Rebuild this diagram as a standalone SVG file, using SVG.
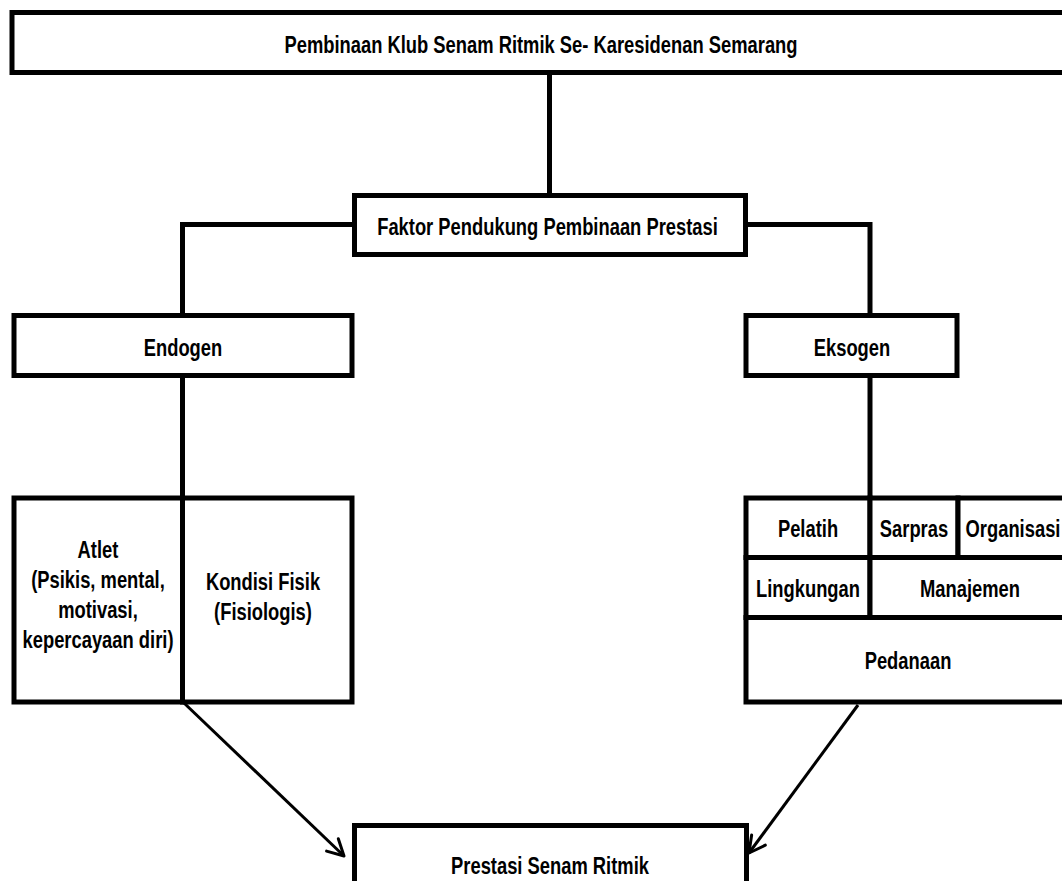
<svg xmlns="http://www.w3.org/2000/svg" width="1062" height="881" viewBox="0 0 1062 881">
  <style>
    .box { fill: #ffffff; stroke: #000000; stroke-width: 5; }
    .ln { fill: none; stroke: #000000; stroke-width: 5; }
    .arr { fill: none; stroke: #000000; stroke-width: 3; marker-end: url(#ah); }
    text { font-family: "Liberation Sans", Arial, sans-serif; font-weight: bold; font-size: 24px; text-anchor: middle; fill: #000000; }
  </style>
  <defs>
    <marker id="ah" markerUnits="userSpaceOnUse" markerWidth="30" markerHeight="30" viewBox="-22 -15 30 30" refX="0" refY="0" orient="auto" overflow="visible">
      <path d="M-16,-8.5 L0,0 L-16,8.5" fill="none" stroke="#000000" stroke-width="3" stroke-linecap="round" stroke-linejoin="round"/>
    </marker>
  </defs>
  <rect x="0" y="0" width="1062" height="881" fill="#ffffff"/>

  <g id="connectors">
    <path class="ln" d="M549.5,72.5 V195.5"/>
    <path class="ln" d="M354.5,224.5 H182.5 V315.5"/>
    <path class="ln" d="M745.5,224.5 H870 V315.5"/>
    <path class="ln" d="M182.5,375.5 V498"/>
    <path class="ln" d="M870,375.5 V498"/>
    <path class="arr" d="M184,703 L344,856"/>
    <path class="arr" d="M858,705 L749,853"/>
  </g>

  <g id="n-title">
    <rect class="box" x="12" y="12.5" width="1060" height="60"/>
    <text transform="translate(541 53) scale(0.765 1)">Pembinaan Klub Senam Ritmik Se- Karesidenan Semarang</text>
  </g>

  <g id="n-faktor">
    <rect class="box" x="354.5" y="195.5" width="391" height="59"/>
    <text transform="translate(547.5 234.5) scale(0.765 1)">Faktor Pendukung Pembinaan Prestasi</text>
  </g>

  <g id="n-endogen">
    <rect class="box" x="14" y="315.5" width="338" height="60"/>
    <text transform="translate(183 355.5) scale(0.765 1)">Endogen</text>
  </g>

  <g id="n-eksogen">
    <rect class="box" x="746" y="315.5" width="211" height="60"/>
    <text transform="translate(852 355.5) scale(0.765 1)">Eksogen</text>
  </g>

  <g id="n-atlet">
    <rect class="box" x="14" y="498" width="168.5" height="204"/>
    <text transform="translate(98 558) scale(0.765 1)"><tspan x="0" y="0">Atlet</tspan><tspan x="0" y="30">(Psikis, mental,</tspan><tspan x="0" y="60">motivasi,</tspan><tspan x="0" y="90">kepercayaan diri)</tspan></text>
  </g>

  <g id="n-kondisi">
    <rect class="box" x="182.5" y="498" width="169.5" height="204"/>
    <text transform="translate(263 590) scale(0.765 1)"><tspan x="0" y="0">Kondisi Fisik</tspan><tspan x="0" y="30">(Fisiologis)</tspan></text>
  </g>

  <g id="n-pelatih">
    <rect class="box" x="746" y="498" width="124" height="59.5"/>
    <text transform="translate(808 537) scale(0.765 1)">Pelatih</text>
  </g>

  <g id="n-sarpras">
    <rect class="box" x="870" y="498" width="88" height="59.5"/>
    <text transform="translate(914 537) scale(0.765 1)">Sarpras</text>
  </g>

  <g id="n-organisasi">
    <rect class="box" x="958" y="498" width="112" height="59.5"/>
    <text transform="translate(1013 537) scale(0.765 1)">Organisasi</text>
  </g>

  <g id="n-lingkungan">
    <rect class="box" x="746" y="557.5" width="124" height="60"/>
    <text transform="translate(808 596.5) scale(0.765 1)">Lingkungan</text>
  </g>

  <g id="n-manajemen">
    <rect class="box" x="870" y="557.5" width="200" height="60"/>
    <text transform="translate(970 596.5) scale(0.765 1)">Manajemen</text>
  </g>

  <g id="n-pedanaan">
    <rect class="box" x="746" y="617.5" width="324" height="84.5"/>
    <text transform="translate(908 669) scale(0.765 1)">Pedanaan</text>
  </g>

  <g id="n-prestasi">
    <rect class="box" x="354.5" y="825.5" width="392" height="60"/>
    <text transform="translate(550 874) scale(0.765 1)">Prestasi Senam Ritmik</text>
  </g>
</svg>
